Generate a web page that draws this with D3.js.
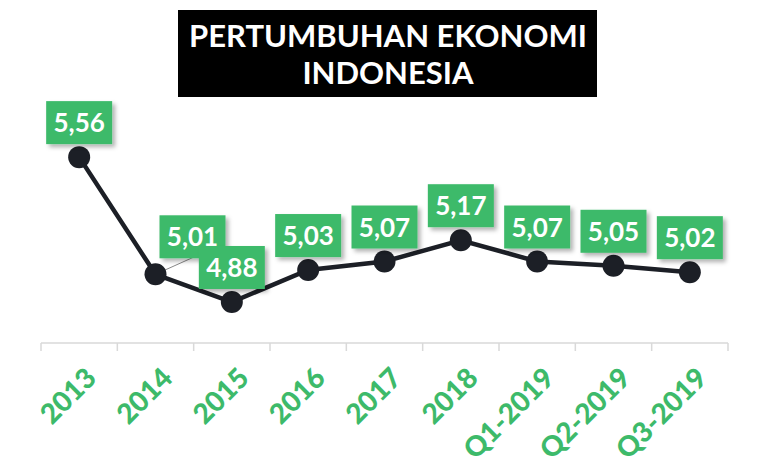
<!DOCTYPE html><html><head><meta charset="utf-8"><script src="https://cdn.jsdelivr.net/npm/d3@7"></script>
<style>body{margin:0;background:#fff}svg{display:block}</style></head><body><script>
const categories=["2013","2014","2015","2016","2017","2018","Q1-2019","Q2-2019","Q3-2019"];
const values=[5.56,5.01,4.88,5.03,5.07,5.17,5.07,5.05,5.02];
const labels=["5,56","5,01","4,88","5,03","5,07","5,17","5,07","5,05","5,02"];
const titleLines=["PERTUMBUHAN EKONOMI","INDONESIA"];
const W=760,H=464,green="#3dba6a";
const svg=d3.select("body").append("svg").attr("width",W).attr("height",H);
const defs=svg.append("defs");
const f=defs.append("filter").attr("id","sh").attr("x","-20%").attr("y","-20%").attr("width","150%").attr("height","150%");
f.append("feDropShadow").attr("dx",3).attr("dy",3).attr("stdDeviation",2).attr("flood-color","#000").attr("flood-opacity",0.3);
svg.append("rect").attr("x",178).attr("y",10).attr("width",419).attr("height",87).attr("fill","#000");
svg.selectAll(".t").data(titleLines).enter().append("text").attr("x",388).attr("y",(d,i)=>47+i*37)
 .attr("text-anchor","middle").attr("fill","#fff").attr("font-family","Lato").attr("font-weight","bold").attr("font-size",31).text(d=>d);
const x=d3.scaleBand().domain(categories).range([41,728]);
const y=d3.scaleLinear().domain([4.68,5.7]).range([344.6,127.3]);
const ax=svg.append("g").attr("transform","translate(0,343)");
ax.append("line").attr("x1",41).attr("x2",728).attr("stroke","#d9d9d9").attr("stroke-width",1.5);
ax.selectAll(".tk").data(d3.range(categories.length+1)).enter().append("line")
 .attr("x1",i=>41+i*x.step()).attr("x2",i=>41+i*x.step()).attr("y1",0).attr("y2",8).attr("stroke","#d9d9d9").attr("stroke-width",1.5);
ax.selectAll(".lb").data(categories).enter().append("text")
 .attr("transform",d=>`translate(${x(d)+x.bandwidth()/2+4},22) rotate(-45)`)
 .attr("text-anchor","end").attr("dy","0.75em").attr("fill",green).attr("font-family","Lato").attr("font-weight","900").attr("font-size",28).text(d=>d);
const cx=(d,i)=>x(categories[i])+x.bandwidth()/2;
const line=d3.line().x((d,i)=>cx(d,i)).y(d=>y(d));
svg.append("path").datum(values).attr("d",line).attr("fill","none").attr("stroke","#1c1f26").attr("stroke-width",4.5);
svg.append("line").attr("x1",cx(0,1)).attr("y1",y(values[1])).attr("x2",cx(0,1)+40).attr("y2",y(values[1])-18).attr("stroke","#888").attr("stroke-width",1);
svg.selectAll(".pt").data(values).enter().append("circle").attr("cx",cx).attr("cy",d=>y(d)).attr("r",11).attr("fill","#1c1f26");
const g=svg.selectAll(".lab").data(values).enter().append("g")
 .attr("transform",(d,i)=>{let bx=cx(d,i),by=y(d)-13; if(i===1){bx+=37;by=y(d)-16;} return `translate(${bx},${by})`;});
g.append("rect").attr("x",-33).attr("y",-43).attr("width",66).attr("height",43).attr("fill",green).attr("filter","url(#sh)");
g.append("text").attr("y",-12).attr("text-anchor","middle").attr("fill","#fff").attr("font-family","Lato").attr("font-weight","bold").attr("font-size",26).text((d,i)=>labels[i]);
</script></body></html>
